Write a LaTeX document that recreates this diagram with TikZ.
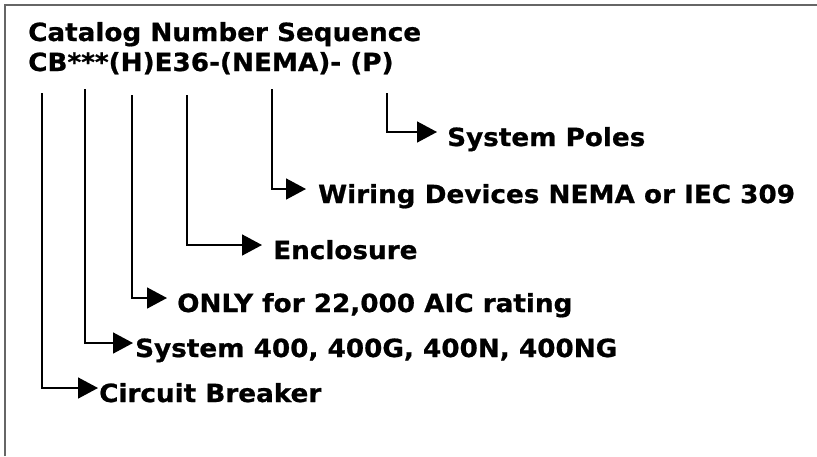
\documentclass[tikz,border=0pt]{standalone}
\usepackage{fontspec}
\setmainfont{DejaVu Sans}[FakeStretch=1.05,BoldFeatures={FakeBold=0.8}]
\usetikzlibrary{arrows.meta}
\begin{document}
\begin{tikzpicture}[x=1pt,y=-1pt,
  lbl/.style={anchor=base west,inner sep=0pt,font=\fontsize{25}{29}\selectfont\bfseries},
  conn/.style={line width=1.6pt,-{Triangle[length=20pt,width=21pt]}},
  frameline/.style={draw=black!60,line width=2pt}]
\useasboundingbox (0,0) rectangle (817,456);
\draw[frameline] (5,456) -- (5,5) -- (817,5);
\node[lbl] (t1) at (28,41) {Catalog Number Sequence};
\node[lbl] (t2) at (28,71) {CB***(H)E36-(NEMA)- (P)};
% tops of connectors
\coordinate (a0) at (42,93);
\coordinate (b0) at (85,89);
\coordinate (c0) at (132,95);
\coordinate (d0) at (187,95);
\coordinate (e0) at (272,89);
\coordinate (f0) at (387,93);
% arrow tips
\coordinate (a1) at (98,388);
\coordinate (b1) at (133,343);
\coordinate (c1) at (167,298);
\coordinate (d1) at (262,245);
\coordinate (e1) at (306,189);
\coordinate (f1) at (437,132);
% labels
\node[lbl] (la) at (99,402) {Circuit Breaker};
\node[lbl] (lb) at (135,357) {System 400, 400G, 400N, 400NG};
\node[lbl] (lc) at (177,312) {ONLY for 22,000 AIC rating};
\node[lbl] (ld) at (273,259) {Enclosure};
\node[lbl] (le) at (318,203) {Wiring Devices NEMA or IEC 309};
\node[lbl] (lf) at (447,146) {System Poles};
% connectors
\draw[conn] (a0) |- (a1);
\draw[conn] (b0) |- (b1);
\draw[conn] (c0) |- (c1);
\draw[conn] (d0) |- (d1);
\draw[conn] (e0) |- (e1);
\draw[conn] (f0) |- (f1);
\end{tikzpicture}
\end{document}
